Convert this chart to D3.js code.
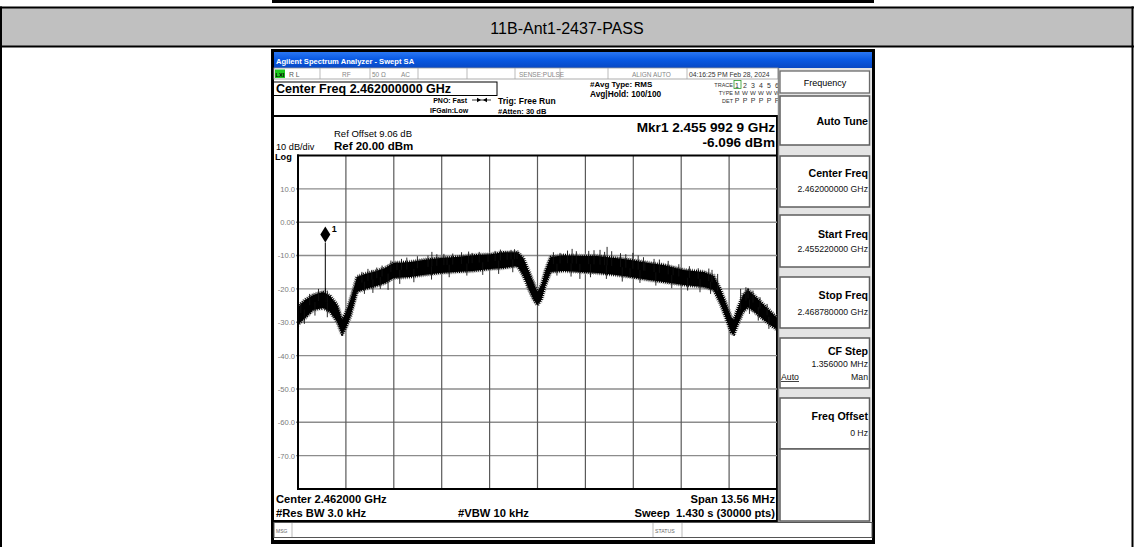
<!DOCTYPE html>
<html><head><meta charset="utf-8">
<script src="https://cdn.jsdelivr.net/npm/d3@7"></script>
<style>
html,body{margin:0;padding:0;background:#fff;}
svg{display:block;font-family:"Liberation Sans",Arial,sans-serif;}
text{white-space:pre;}
</style></head><body>
<svg id="c" width="1134" height="547"></svg>
<script>
// ---------------- data ----------------
const pageTitle = "11B-Ant1-2437-PASS";
const centerGHz = 2.462;
const spanMHz = 13.56;
const yDomain = [-80, 20];
const yTickValues = [10, 0, -10, -20, -30, -40, -50, -60, -70];
const yTickLabels = ["10.0", "0.00", "-10.0", "-20.0", "-30.0", "-40.0", "-50.0", "-60.0", "-70.0"];
const xDivisions = [-6.78, -5.424, -4.068, -2.712, -1.356, 0, 1.356, 2.712, 4.068, 5.424, 6.78];
// trace envelope (MHz offset from centre, dBm)
const envFreq = [-6.78,-6.58,-6.35,-6.07,-5.87,-5.67,-5.53,-5.42,-5.30,-5.11,-4.88,-4.65,-4.31,-4.08,-3.60,-3.23,-2.75,-2.33,-1.82,-1.33,-0.96,-0.57,-0.40,-0.26,-0.11,0.00,0.11,0.23,0.37,0.74,1.22,1.70,2.21,2.64,3.15,3.57,4.14,4.71,4.99,5.19,5.33,5.48,5.56,5.67,5.82,5.96,6.18,6.41,6.61,6.78];
const envHigh = [-25.4,-23.3,-21.8,-20.9,-22.1,-24.8,-29.3,-26.9,-23.3,-16.4,-15.5,-14.9,-13.7,-12.2,-11.9,-11.3,-10.7,-10.4,-9.9,-9.6,-9.0,-9.0,-10.7,-14.3,-18.2,-20.9,-18.8,-14.3,-10.4,-9.9,-10.1,-10.1,-10.7,-11.3,-12.2,-12.8,-14.3,-14.9,-16.1,-20.3,-24.2,-28.4,-29.3,-25.7,-21.8,-20.3,-22.4,-24.8,-26.9,-28.7];
const envLow = [-30.7,-28.7,-26.3,-25.7,-26.9,-29.9,-33.7,-31.6,-28.4,-20.9,-20.0,-19.4,-18.2,-16.7,-16.4,-15.8,-15.2,-14.9,-14.6,-14.0,-13.7,-13.1,-16.1,-19.7,-23.3,-24.8,-23.3,-18.8,-14.9,-14.6,-14.9,-15.2,-15.8,-16.4,-17.3,-17.9,-18.8,-19.4,-20.3,-24.8,-28.7,-33.1,-33.7,-30.7,-26.9,-25.4,-27.2,-29.3,-31.0,-32.2];
// noise spikes above the band
const spikeUpFreq = [-6.70,-6.45,-6.20,-6.00,-5.95,-4.97,-4.80,-4.69,-4.55,-4.40,-4.15,-3.98,-3.85,-3.70,-3.40,-3.10,-2.99,-2.85,-2.65,-2.56,-2.40,-2.15,-1.95,-1.85,-1.65,-1.40,-1.20,-1.05,-0.86,-0.75,-0.65,-0.58,0.45,0.64,0.85,0.98,1.10,1.45,1.60,1.77,1.90,1.97,2.10,2.35,2.50,2.70,2.85,3.00,3.04,3.30,3.45,3.70,3.84,4.00,4.30,4.55,4.85,4.94,5.10,5.75,5.90,5.96,6.10,6.30,6.50];
const spikeUpLevel = [-24.0,-21.5,-20.0,-19.8,-20.5,-14.9,-14.0,-14.3,-13.6,-13.0,-11.5,-11.9,-11.0,-10.6,-10.2,-10.0,-8.9,-9.6,-9.5,-10.4,-9.4,-9.0,-8.8,-9.2,-8.9,-9.8,-8.6,-8.2,-8.9,-8.3,-8.1,-8.9,-9.0,-9.2,-8.5,-8.0,-8.7,-8.6,-8.4,-8.3,-8.9,-7.4,-8.7,-9.3,-9.6,-9.2,-10.0,-10.5,-11.9,-11.0,-11.2,-11.6,-13.4,-12.6,-13.2,-13.8,-13.9,-14.3,-15.5,-20.0,-19.5,-19.7,-20.5,-22.5,-24.5];
// noise spikes below the band
const spikeDownFreq = [-6.60,-6.30,-5.95,-4.90,-4.66,-4.45,-4.23,-3.90,-3.50,-3.00,-2.50,-2.00,-1.55,-1.10,-0.70,0.55,0.95,1.20,1.50,1.95,2.40,2.62,2.90,3.35,3.80,4.25,4.60,4.90,6.00,6.25,6.55];
const spikeDownLevel = [-30.5,-28.0,-28.5,-21.5,-21.2,-20.0,-20.3,-18.5,-18.0,-17.2,-16.5,-16.0,-15.8,-15.5,-15.0,-16.0,-16.3,-17.0,-16.5,-17.0,-17.8,-16.7,-18.2,-19.0,-19.8,-20.5,-21.0,-21.5,-27.5,-29.5,-32.0];
const markerFreqGHz = 2.4559929;
const markerLevel = -6.096;
// soft keys
const keyLabels = ["Auto Tune", "Center Freq", "Start Freq", "Stop Freq", "CF Step", "Freq Offset", ""];
const keyValues = ["", "2.462000000 GHz", "2.455220000 GHz", "2.468780000 GHz", "1.356000 MHz", "0 Hz", ""];
const keyTops = [96, 156, 215, 277, 338, 398, 449];
const keyBottoms = [145, 207, 267, 328, 388, 449, 521];

// ---------------- drawing ----------------
const svg = d3.select("#c");
const F = "Liberation Sans, Arial, sans-serif";
function txt(g, x, y, s, size, opt = {}) {
  return g.append("text").attr("x", x).attr("y", y).text(s)
    .attr("font-size", size).attr("font-weight", opt.bold ? "bold" : "normal")
    .attr("fill", opt.fill || "#000").attr("text-anchor", opt.anchor || "start");
}

// page table
svg.append("rect").attr("x", 272).attr("y", 0).attr("width", 602).attr("height", 3).attr("fill", "#000");
svg.append("rect").attr("x", 1).attr("y", 8).attr("width", 1132).attr("height", 38).attr("fill", "#c0c0c0");
svg.append("line").attr("x1", 0).attr("x2", 1134).attr("y1", 7.5).attr("y2", 7.5).attr("stroke", "#000").attr("stroke-width", 2);
svg.append("line").attr("x1", 0).attr("x2", 1134).attr("y1", 46.5).attr("y2", 46.5).attr("stroke", "#000").attr("stroke-width", 2);
svg.append("line").attr("x1", 1).attr("x2", 1).attr("y1", 6.5).attr("y2", 547).attr("stroke", "#000").attr("stroke-width", 2);
svg.append("line").attr("x1", 1132.5).attr("x2", 1132.5).attr("y1", 6.5).attr("y2", 547).attr("stroke", "#000").attr("stroke-width", 2);
txt(svg, 567, 34, pageTitle, 16, { anchor: "middle" });

// screenshot frame
const shot = svg.append("g");
shot.append("rect").attr("x", 271).attr("y", 49).attr("width", 604).attr("height", 495).attr("fill", "#000");
shot.append("rect").attr("x", 274).attr("y", 52).attr("width", 598).attr("height", 488).attr("fill", "#fff");

// title bar
const defs = svg.append("defs");
const grad = defs.append("linearGradient").attr("id", "blue").attr("x1", 0).attr("x2", 0).attr("y1", 0).attr("y2", 1);
grad.append("stop").attr("offset", "0%").attr("stop-color", "#2a76f2");
grad.append("stop").attr("offset", "45%").attr("stop-color", "#0a5ae4");
grad.append("stop").attr("offset", "100%").attr("stop-color", "#0848c4");
shot.append("rect").attr("x", 274).attr("y", 52).attr("width", 598).attr("height", 16).attr("fill", "url(#blue)");
txt(shot, 276, 63.5, "Agilent Spectrum Analyzer - Swept SA", 7.6, { bold: true, fill: "#fff" });

// status row
shot.append("rect").attr("x", 274).attr("y", 68).attr("width", 504).attr("height", 11).attr("fill", "#fff").attr("stroke", "#9a9a9a").attr("stroke-width", 0.8);
shot.append("rect").attr("x", 275).attr("y", 69.5).attr("width", 10).attr("height", 8.5).attr("fill", "#1ec81e");
txt(shot, 275.6, 76.6, "LXI", 5.6, { bold: true });
[320, 370, 418, 467, 515, 560, 608, 687].forEach(x => shot.append("line").attr("x1", x).attr("x2", x).attr("y1", 68).attr("y2", 79).attr("stroke", "#aaa").attr("stroke-width", 0.8));
txt(shot, 289, 76.5, "R L", 6.8, { fill: "#555" });
txt(shot, 342, 76.5, "RF", 6.5, { fill: "#888" });
txt(shot, 372, 76.5, "50 Ω", 6.5, { fill: "#888" });
txt(shot, 401, 76.5, "AC", 6.5, { fill: "#888" });
txt(shot, 519, 76.5, "SENSE:PULSE", 6.5, { fill: "#888" });
txt(shot, 632, 76.5, "ALIGN AUTO", 6.5, { fill: "#888" });
txt(shot, 689, 76.5, "04:16:25 PM Feb 28, 2024", 6.8, { fill: "#333" });

// info area
shot.append("rect").attr("x", 273.5).attr("y", 82).attr("width", 223.5).attr("height", 13.5).attr("fill", "none").attr("stroke", "#000").attr("stroke-width", 1);
txt(shot, 276, 93.3, "Center Freq 2.462000000 GHz", 12.5, { bold: true });
txt(shot, 467, 102.5, "PNO: Fast", 7, { bold: true, anchor: "end" });
shot.append("line").attr("x1", 472).attr("x2", 491).attr("y1", 100).attr("y2", 100).attr("stroke", "#000").attr("stroke-width", 0.8);
shot.append("path").attr("d", "M477,97.8 L481,100 L477,102.2 Z M487,97.8 L483,100 L487,102.2 Z").attr("fill", "#000");
txt(shot, 430, 112.5, "IFGain:Low", 7, { bold: true });
txt(shot, 498, 104, "Trig: Free Run", 8.5, { bold: true });
txt(shot, 498, 114, "#Atten: 30 dB", 7.5, { bold: true });
txt(shot, 590, 87, "#Avg Type: RMS", 8, { bold: true });
txt(shot, 590, 97, "Avg|Hold: 100/100", 8.3, { bold: true });
txt(shot, 733, 86.5, "TRACE", 5.5, { anchor: "end", fill: "#333" });
txt(shot, 733, 95, "TYPE", 5.5, { anchor: "end", fill: "#333" });
txt(shot, 733, 103, "DET", 5.5, { anchor: "end", fill: "#333" });
const trX = [737, 745, 753, 761, 769, 777];
shot.append("rect").attr("x", 734).attr("y", 80.5).attr("width", 7).attr("height", 8).attr("fill", "none").attr("stroke", "#2a9a2a").attr("stroke-width", 0.8);
["1","2","3","4","5","6"].forEach((s, i) => txt(shot, trX[i], 87.5, s, 7, { anchor: "middle", fill: "#333" }));
["M","W","W","W","W","W"].forEach((s, i) => txt(shot, trX[i], 95, s, 6.2, { anchor: "middle", fill: "#333" }));
["P","P","P","P","P","P"].forEach((s, i) => txt(shot, trX[i], 103, s, 7, { anchor: "middle", fill: "#333" }));

// spectrum panel
shot.append("line").attr("x1", 272).attr("x2", 778).attr("y1", 116).attr("y2", 116).attr("stroke", "#000").attr("stroke-width", 2);
shot.append("line").attr("x1", 777).attr("x2", 777).attr("y1", 115).attr("y2", 522).attr("stroke", "#000").attr("stroke-width", 2);
shot.append("line").attr("x1", 272).attr("x2", 778).attr("y1", 521).attr("y2", 521).attr("stroke", "#000").attr("stroke-width", 2);
txt(shot, 334, 136.5, "Ref Offset 9.06 dB", 9.5);
txt(shot, 334, 150, "Ref 20.00 dBm", 11.5, { bold: true });
txt(shot, 276, 149.8, "10 dB/div", 9.2);
txt(shot, 275, 159.5, "Log", 9.2, { bold: true });
txt(shot, 775, 132, "Mkr1 2.455 992 9 GHz", 13.6, { bold: true, anchor: "end" });
txt(shot, 775, 147, "-6.096 dBm", 13.6, { bold: true, anchor: "end" });

const x = d3.scaleLinear().domain([-spanMHz / 2, spanMHz / 2]).range([298, 777]);
const y = d3.scaleLinear().domain(yDomain).range([489, 155.5]);
const plot = shot.append("g");
plot.selectAll(".hg").data(yTickValues).join("line")
  .attr("x1", 296).attr("x2", 777).attr("y1", d => y(d)).attr("y2", d => y(d))
  .attr("stroke", "#8c8c8c").attr("stroke-width", 1.4);
plot.selectAll(".vg").data(xDivisions.slice(1, -1)).join("line")
  .attr("x1", d => x(d)).attr("x2", d => x(d)).attr("y1", 155.5).attr("y2", 489)
  .attr("stroke", "#5a5a5a").attr("stroke-width", 1.2);
const yAxis = d3.axisLeft(y).tickValues(yTickValues).tickFormat((d, i) => yTickLabels[i]).tickSize(0).tickPadding(2);
const ya = plot.append("g").attr("transform", "translate(297,0)").call(yAxis);
ya.select(".domain").remove();
ya.selectAll("text").attr("font-size", 7.6).attr("fill", "#7a7a7a").attr("font-family", F);

defs.append("clipPath").attr("id", "pc").append("rect").attr("x", 298).attr("y", 155.5).attr("width", 479).attr("height", 333.5);
const tr = plot.append("g").attr("clip-path", "url(#pc)");
const env = envFreq.map((f, i) => ({ f, hi: envHigh[i], lo: envLow[i] }));
const area = d3.area().x(d => x(d.f)).y0(d => y(d.lo)).y1(d => y(d.hi));
// soft halo and serrated edge to mimic the noisy trace
tr.append("path").datum(env).attr("d", area).attr("fill", "none").attr("stroke", "#9a9a9a").attr("stroke-width", 4.5).attr("stroke-dasharray", "0.7 1.3").attr("stroke-linejoin", "round");
tr.append("path").datum(env).attr("d", area).attr("fill", "#000").attr("stroke", "#000").attr("stroke-width", 2.6).attr("stroke-dasharray", "1 1.1").attr("stroke-linejoin", "round");
const midAt = f => {
  const i = d3.bisectLeft(envFreq, f);
  const a = env[Math.max(0, i - 1)], b = env[Math.min(env.length - 1, i)];
  const t = b.f === a.f ? 0 : (f - a.f) / (b.f - a.f);
  return ((a.hi + a.lo) / 2) * (1 - t) + ((b.hi + b.lo) / 2) * t;
};
tr.selectAll(".spu").data(spikeUpFreq).join("line")
  .attr("x1", d => x(d)).attr("x2", d => x(d))
  .attr("y1", (d, i) => y(spikeUpLevel[i])).attr("y2", d => y(midAt(d)))
  .attr("stroke", "#111").attr("stroke-width", 0.9);
tr.selectAll(".spd").data(spikeDownFreq).join("line")
  .attr("x1", d => x(d)).attr("x2", d => x(d))
  .attr("y1", (d, i) => y(spikeDownLevel[i])).attr("y2", d => y(midAt(d)))
  .attr("stroke", "#111").attr("stroke-width", 0.9);
// marker
const mOff = (markerFreqGHz - centerGHz) * 1000;
tr.append("line").attr("x1", x(mOff)).attr("x2", x(mOff)).attr("y1", y(markerLevel)).attr("y2", y(midAt(mOff)))
  .attr("stroke", "#000").attr("stroke-width", 1);
const mx = x(mOff), my = y(markerLevel);
plot.append("path").attr("d", `M${mx},${my} L${mx + 5},${my - 8} L${mx},${my - 16} L${mx - 5},${my - 8} Z`).attr("fill", "#000");
txt(plot, mx + 6.5, my - 11, "1", 9, { bold: true });

// plot border
plot.append("line").attr("x1", 298).attr("x2", 298).attr("y1", 154.5).attr("y2", 490).attr("stroke", "#000").attr("stroke-width", 2);
plot.append("line").attr("x1", 297).attr("x2", 778).attr("y1", 155.5).attr("y2", 155.5).attr("stroke", "#000").attr("stroke-width", 2);
plot.append("line").attr("x1", 297).attr("x2", 778).attr("y1", 489).attr("y2", 489).attr("stroke", "#000").attr("stroke-width", 2);

txt(shot, 276, 503, "Center 2.462000 GHz", 11.2, { bold: true });
txt(shot, 276, 517, "#Res BW 3.0 kHz", 11.2, { bold: true });
txt(shot, 458, 517, "#VBW 10 kHz", 11.2, { bold: true });
txt(shot, 775, 503, "Span 13.56 MHz", 11.2, { bold: true, anchor: "end" });
txt(shot, 775, 517, "Sweep  1.430 s (30000 pts)", 11.2, { bold: true, anchor: "end" });

// soft key panel
const sk = shot.append("g");
sk.append("rect").attr("x", 778).attr("y", 68).attr("width", 94).attr("height", 455).attr("fill", "#e4e4e4");
sk.append("line").attr("x1", 778.5).attr("x2", 778.5).attr("y1", 68).attr("y2", 523).attr("stroke", "#8a8a8a").attr("stroke-width", 1.5);
sk.append("rect").attr("x", 780).attr("y", 71).attr("width", 89.5).attr("height", 22).attr("fill", "#fff").attr("stroke", "#6a6a6a").attr("stroke-width", 1.3);
txt(sk, 825, 85.5, "Frequency", 9, { anchor: "middle" });
const labelDy = [28.5, 20.5, 22.5, 21.5, 16.5, 21.5, 0];
const valueDy = [0, 36, 36.5, 37.5, 28.5, 37.5, 0];
keyLabels.forEach((lab, i) => {
  sk.append("rect").attr("x", 780).attr("y", keyTops[i]).attr("width", 89.5).attr("height", keyBottoms[i] - keyTops[i])
    .attr("fill", "#fff").attr("stroke", "#5e5e5e").attr("stroke-width", 1.5);
  if (lab) txt(sk, 868, keyTops[i] + labelDy[i], lab, 10.6, { bold: true, anchor: "end" });
  if (keyValues[i]) txt(sk, 868, keyTops[i] + valueDy[i], keyValues[i], 8.7, { anchor: "end", fill: "#111" });
});
txt(sk, 781, 380, "Auto", 8.7, { fill: "#111" });
sk.append("line").attr("x1", 781).attr("x2", 799).attr("y1", 381.5).attr("y2", 381.5).attr("stroke", "#111").attr("stroke-width", 0.8);
txt(sk, 868, 380, "Man", 8.7, { anchor: "end", fill: "#111" });

// message bar
shot.append("rect").attr("x", 274).attr("y", 522.5).attr("width", 598).attr("height", 15).attr("fill", "#fff").attr("stroke", "#555").attr("stroke-width", 1);
shot.append("line").attr("x1", 292).attr("x2", 292).attr("y1", 523).attr("y2", 537).attr("stroke", "#bbb");
shot.append("line").attr("x1", 653).attr("x2", 653).attr("y1", 523).attr("y2", 537).attr("stroke", "#bbb");
shot.append("line").attr("x1", 682).attr("x2", 682).attr("y1", 523).attr("y2", 537).attr("stroke", "#bbb");
txt(shot, 276, 532.5, "MSG", 5, { fill: "#666" });
txt(shot, 655, 532.5, "STATUS", 5.2, { fill: "#666" });
</script>
</body></html>
